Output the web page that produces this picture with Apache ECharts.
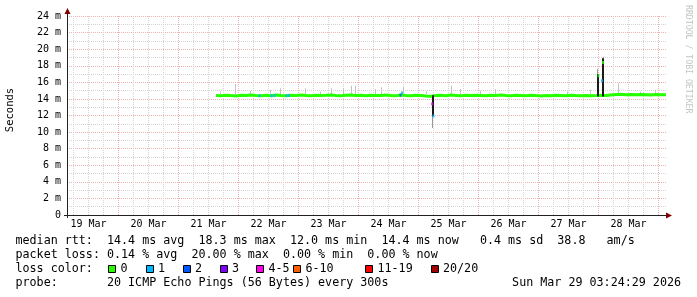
<!DOCTYPE html>
<html>
<head>
<meta charset="utf-8">
<script src="https://cdn.jsdelivr.net/npm/echarts@6/dist/echarts.min.js"></script>
<style>html,body{margin:0;padding:0;background:#fff;}#c{width:697px;height:297px;}</style>
</head>
<body>
<div id="c"></div>
<script>
// ---- data (x = hours since 19 Mar 00:00) ----
const xMin = 3.4, xMax = 243.4;
const dayLabels = ['19 Mar','20 Mar','21 Mar','22 Mar','23 Mar','24 Mar','25 Mar','26 Mar','27 Mar','28 Mar'];
const dayLabelHours = [12,36,60,84,108,132,156,180,204,228];
const majorGridHours = [24,48,72,96,120,144,168,192,216,240];
const minorGridHours = [6,12,18,30,36,42,54,60,66,78,84,90,102,108,114,126,132,138,150,156,162,174,180,186,198,204,210,222,228,234];
const yTicks = [0,2,4,6,8,10,12,14,16,18,20,22,24];

const medianTimes = [63,65,67,69,71,73,75,77,79,81,83,85,87,89,91,93,95,97,99,101,103,105,107,109,111,113,115,117,119,121,123,125,127,129,131,133,135,137,139,141,143,145,147,149,151,153,155,157,159,161,163,165,167,169,171,173,175,177,179,181,183,185,187,189,191,193,195,197,199,201,203,205,207,209,211,213,215,217,219,221,223,225,227,229,231,233,235,237,239,241,243];
const medianMs = [14.42,14.38,14.45,14.40,14.36,14.44,14.40,14.47,14.41,14.38,14.43,14.39,14.46,14.40,14.37,14.44,14.41,14.48,14.42,14.39,14.45,14.40,14.43,14.47,14.41,14.38,14.44,14.46,14.40,14.43,14.39,14.45,14.42,14.40,14.46,14.41,14.38,14.47,14.42,14.39,14.44,14.40,14.36,14.33,14.41,14.44,14.39,14.46,14.42,14.38,14.43,14.40,14.45,14.41,14.37,14.44,14.40,14.46,14.42,14.39,14.43,14.41,14.38,14.45,14.40,14.36,14.42,14.39,14.44,14.41,14.37,14.43,14.40,14.38,14.42,14.39,14.41,14.44,14.40,14.48,14.52,14.55,14.50,14.53,14.49,14.54,14.51,14.47,14.52,14.49,14.50];

// smoke: [time, low ms, high ms]
const smokeLight = [[64.6,14.6,14.9],[70.7,14.6,15.8],[76.6,14.6,15.0],[84.6,14.6,15.1],[88.6,14.6,15.3],[98.6,14.6,15.3],[104.6,14.6,14.9],[109.3,14.6,15.3],[113.8,14.6,15.3],[117.3,14.6,15.6],[118.6,14.6,15.6],[126.6,14.6,15.2],[129.3,14.6,15.4],[137.8,14.6,15.4],[147.3,14.6,14.9],[157.3,14.6,15.6],[160.6,14.6,15.2],[168.6,14.6,15.0],[174.6,14.6,15.2],[203.4,14.6,14.9],[212.6,14.6,15.1],[223.8,14.7,15.9],[232.6,14.7,14.9],[238.6,14.7,15.1]];
const smokeMid = [[149.4,10.5,12.0],[215.5,17.0,17.6],[217.8,18.9,19.1]];
const smokeDark = [[149.8,11.9,14.45],[215.85,14.3,17.0],[217.67,14.3,18.9]];

// median samples coloured by loss
const loss1Points = [[80.4,14.4],[85.2,14.4],[86.4,14.4],[91.2,14.4],[92.2,14.4],[137.4,14.7],[150.0,11.95],[217.4,16.2]];
const loss2Points = [[136.8,14.45]];
const loss45Points = [[149.45,13.4]];
const loss0Points = [[216.0,16.8],[217.8,18.4]];

// legend
const statsLine = 'median rtt:  14.4 ms avg  18.3 ms max  12.0 ms min  14.4 ms now   0.4 ms sd  38.8   am/s';
const lossLine = 'packet loss: 0.14 % avg  20.00 % max  0.00 % min  0.00 % now';
const lossLabels = ['0','1','2','3','4-5','6-10','11-19','20/20'];
const lossColors = ['#26ff00','#00b8ff','#0059ff','#7e00ff','#ff00ea','#ff5e00','#ff0000','#a10000'];
const probeLine = 'probe:       20 ICMP Echo Pings (56 Bytes) every 300s';
const dateLine = 'Sun Mar 29 03:24:29 2026';

const MONO = '"DejaVu Sans Mono", monospace';
const gridMinor = '#d4d4d4', gridMajor = '#efb4b4';

function smokeSeries(data, color, width, z) {
  return {
    type: 'custom', z: z, clip: true, data: data,
    renderItem: function (params, api) {
      const t = api.coord([api.value(0), api.value(2)]);
      const b = api.coord([api.value(0), api.value(1)]);
      return {type: 'rect', shape: {x: Math.round(t[0] - width / 2), y: t[1], width: width, height: b[1] - t[1]}, style: {fill: color}};
    }
  };
}
function lossSeries(data, color) {
  return {type: 'scatter', z: 6, data: data, symbol: 'rect', symbolSize: [2, 3], itemStyle: {color: color}, silent: true};
}

const chart = echarts.init(document.getElementById('c'), null, {renderer: 'canvas'});
chart.setOption({
  animation: false,
  backgroundColor: '#ffffff',
  grid: {left: 67, right: 30, top: 16, bottom: 82},
  xAxis: [{
    type: 'value', min: xMin, max: xMax,
    axisLine: {show: true, onZero: false, lineStyle: {color: '#212121', width: 1}},
    axisTick: {show: false, customValues: minorGridHours},
    axisLabel: {customValues: dayLabelHours, margin: 4, fontFamily: MONO, fontSize: 10, color: '#000',
      formatter: function (v) { const i = dayLabelHours.indexOf(v); return i >= 0 ? dayLabels[i] : ''; }},
    splitLine: {show: true, lineStyle: {color: gridMinor, width: 1, type: [1, 1]}}
  }, {
    type: 'value', min: xMin, max: xMax, position: 'bottom',
    axisLine: {show: false}, axisLabel: {show: false},
    axisTick: {show: false, customValues: majorGridHours},
    splitLine: {show: true, lineStyle: {color: gridMajor, width: 1, type: [1, 1]}}
  }],
  yAxis: [{
    type: 'value', min: 0, max: 24, interval: 2,
    axisLine: {show: true, onZero: false, lineStyle: {color: '#212121', width: 1}},
    axisTick: {show: false},
    axisLabel: {margin: 6, fontFamily: MONO, fontSize: 10, color: '#000',
      formatter: function (v) { return yTicks.indexOf(v) >= 0 ? (v === 0 ? '0' : v + ' m') : ''; }},
    splitLine: {show: true, lineStyle: {color: gridMajor, width: 1, type: [1, 1]}},
    minorTick: {show: false, splitNumber: 2},
    minorSplitLine: {show: true, lineStyle: {color: gridMinor, width: 1, type: [1, 1]}}
  }],
  series: [
    smokeSeries(smokeLight, '#c2c2c2', 1, 1),
    {
      type: 'line', z: 3, data: medianTimes.map(function (t, i) { return [t, medianMs[i]]; }),
      showSymbol: false, symbol: 'none', lineStyle: {color: '#26ff00', width: 3}, silent: true
    },
    smokeSeries(smokeMid, '#9a9a9a', 1, 4),
    smokeSeries(smokeDark, '#1a1a1a', 2, 5),
    lossSeries(loss1Points, lossColors[1]),
    lossSeries(loss2Points, lossColors[2]),
    lossSeries(loss45Points, lossColors[4]),
    lossSeries(loss0Points, lossColors[0])
  ]
});

// decorations positioned through the axes
const pEnd = chart.convertToPixel({gridIndex: 0}, [xMax, 0]);
const pTop = chart.convertToPixel({gridIndex: 0}, [xMin, 24]);
const g = [];
g.push({type: 'polygon', shape: {points: [[pEnd[0] + 5, pEnd[1] + 0.5], [pEnd[0] - 1, pEnd[1] - 2.5], [pEnd[0] - 1, pEnd[1] + 3.5]]}, style: {fill: '#800000'}, z: 10});
g.push({type: 'polygon', shape: {points: [[pTop[0] + 0.5, pTop[1] - 8], [pTop[0] - 2.5, pTop[1] - 2], [pTop[0] + 3.5, pTop[1] - 2]]}, style: {fill: '#800000'}, z: 10});
g.push({type: 'line', shape: {x1: pTop[0] + 0.5, y1: pTop[1] - 3, x2: pTop[0] + 0.5, y2: pTop[1]}, style: {stroke: '#212121', lineWidth: 1}, z: 9});
g.push({type: 'line', shape: {x1: pTop[0] + 0.5, y1: pEnd[1], x2: pTop[0] + 0.5, y2: pEnd[1] + 3}, style: {stroke: '#212121', lineWidth: 1}, z: 9});
g.push({type: 'line', shape: {x1: pTop[0] - 3, y1: pEnd[1] + 0.5, x2: pTop[0], y2: pEnd[1] + 0.5}, style: {stroke: '#212121', lineWidth: 1}, z: 9});

function txt(s, x, y, size, extra) {
  return {type: 'text', x: x, y: y, z: 10, style: Object.assign({text: s, font: size + 'px ' + MONO, fill: '#000', textAlign: 'left', textVerticalAlign: 'middle', align: 'left', verticalAlign: 'middle'}, extra || {})};
}
g.push(txt(statsLine, 15.5, 241, 11.7));
g.push(txt(lossLine, 15.5, 255, 11.7));
g.push(txt('loss color:', 15.5, 269, 11.7));
const boxX = [108, 145.5, 182.5, 219.5, 256, 293, 365, 430.5];
boxX.forEach(function (bx, i) {
  g.push({type: 'rect', shape: {x: Math.round(bx) + 0.5, y: 265.5, width: 7, height: 7}, style: {fill: lossColors[i], stroke: '#000', lineWidth: 1}, z: 10});
  g.push(txt(lossLabels[i], bx + 12.5, 269, 11.7));
});
g.push(txt(probeLine, 15.5, 283, 11.7));
g.push(txt(dateLine, 681, 283, 11.7, {textAlign: 'right', align: 'right'}));
// vertical axis title
g.push({type: 'text', x: 10.5, y: 110, rotation: Math.PI / 2, z: 10,
  style: {text: 'Seconds', font: '10.5px ' + MONO, fill: '#000', textAlign: 'center', textVerticalAlign: 'middle', align: 'center', verticalAlign: 'middle'}});
// watermark
g.push({type: 'text', x: 688, y: 5, rotation: -Math.PI / 2, z: 10,
  style: {text: 'RRDTOOL / TOBI OETIKER', font: '8.2px ' + MONO, fill: '#c4c4c4', textAlign: 'left', textVerticalAlign: 'middle', align: 'left', verticalAlign: 'middle'}});
chart.setOption({graphic: g});
</script>
</body>
</html>
